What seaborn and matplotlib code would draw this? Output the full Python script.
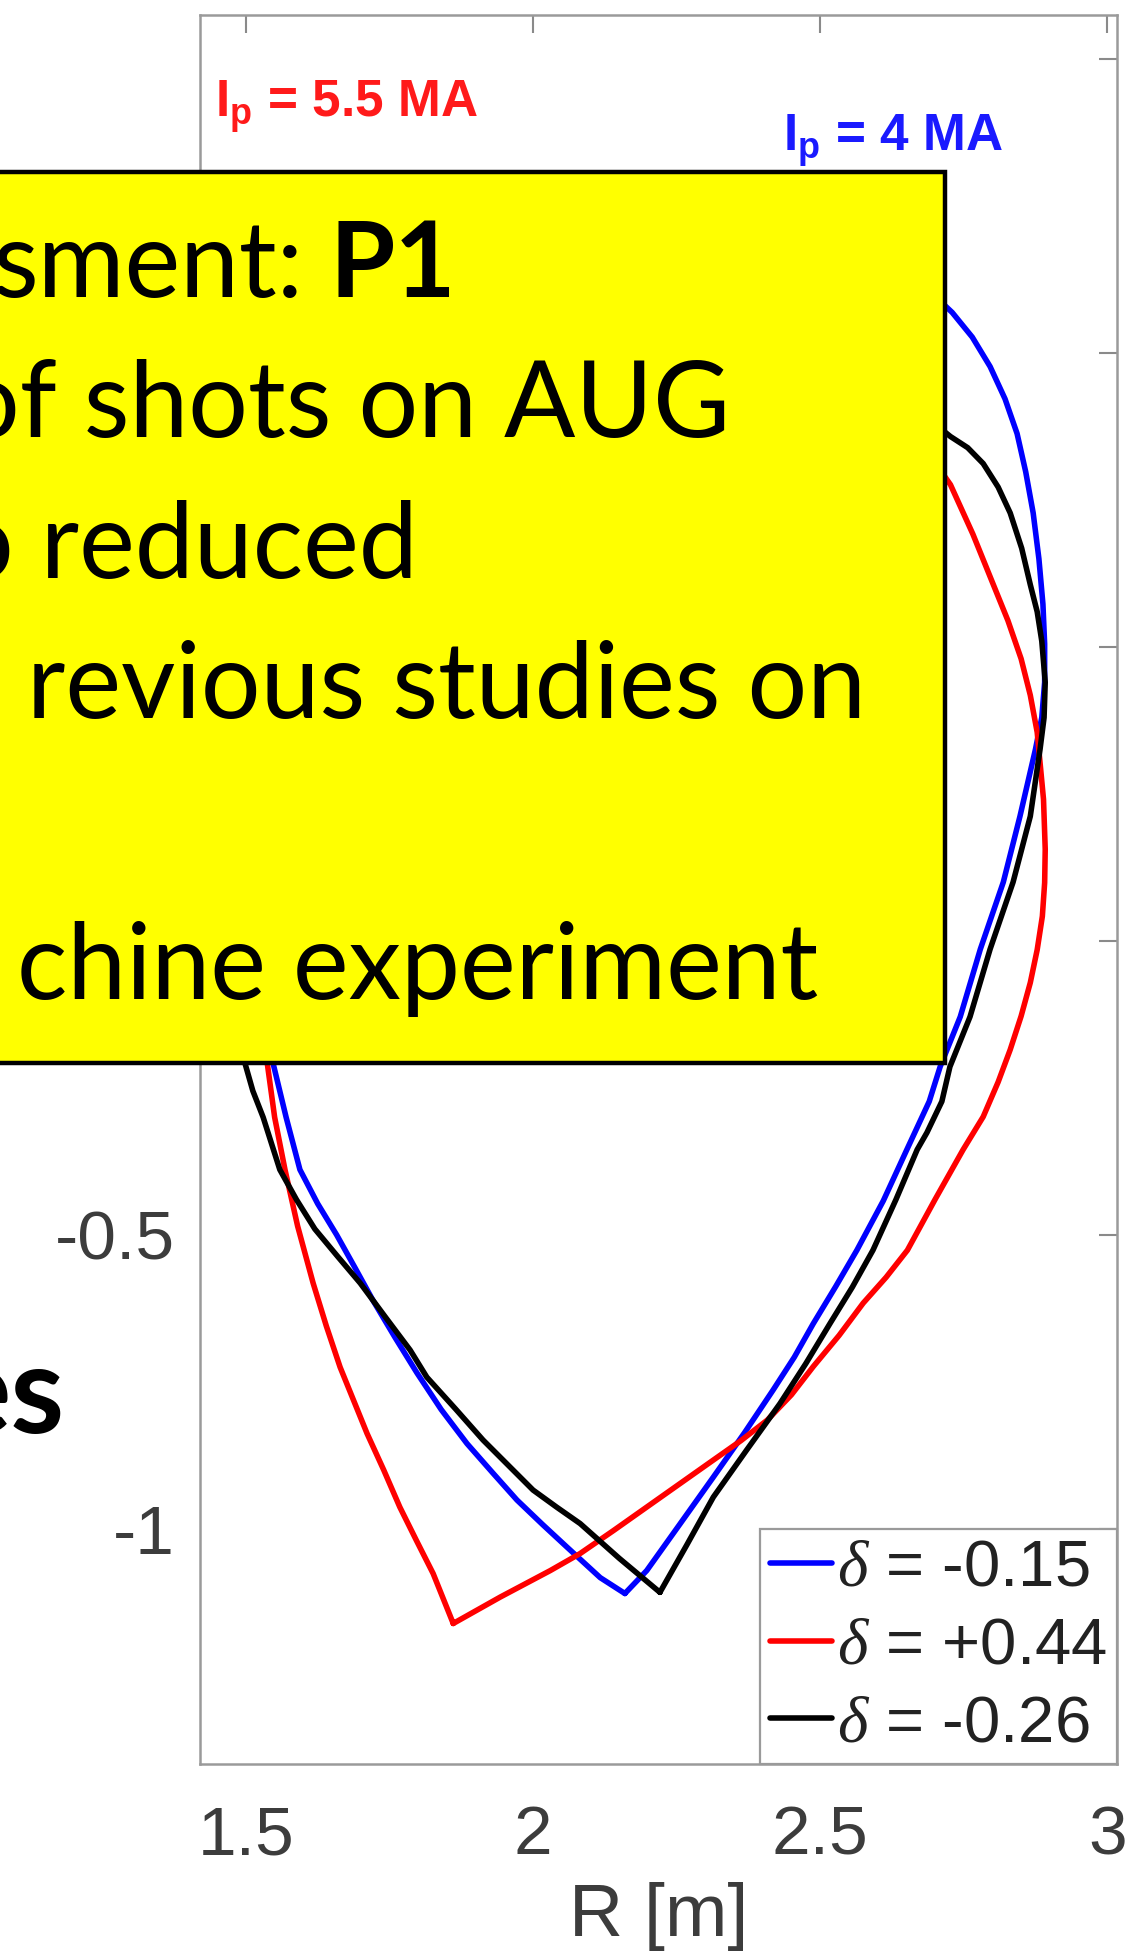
import numpy as np
import pandas as pd
import matplotlib
matplotlib.use("Agg")
import matplotlib.pyplot as plt
import seaborn as sns
from matplotlib.patches import Rectangle

# Plasma boundary contours (R, Z in metres), closed through the X-point
blue_R = [2.160, 2.198, 2.255, 2.314, 2.368, 2.418, 2.455, 2.488, 2.527, 2.564, 2.610, 2.651,
          2.690, 2.709, 2.744, 2.779, 2.819, 2.848, 2.875, 2.886, 2.891, 2.891, 2.888, 2.881,
          2.871, 2.858, 2.843, 2.822, 2.796, 2.765, 2.730, 2.68, 2.62, 2.55, 2.48, 2.40,
          2.33, 2.25, 2.18, 2.10, 2.02, 1.94, 1.86, 1.79, 1.72, 1.66, 1.61, 1.57, 1.54,
          1.52, 1.51, 1.512, 1.52, 1.531, 1.547, 1.570, 1.594, 1.625, 1.658, 1.690, 1.721,
          1.760, 1.798, 1.840, 1.885, 1.930, 1.972, 2.017, 2.059, 2.117, 2.160]
blue_Z = [-1.110, -1.071, -0.993, -0.912, -0.837, -0.764, -0.708, -0.651, -0.588, -0.526,
          -0.442, -0.355, -0.273, -0.214, -0.129, -0.014, 0.100, 0.212, 0.326, 0.380,
          0.440, 0.505, 0.573, 0.650, 0.728, 0.798, 0.863, 0.922, 0.977, 1.027, 1.069,
          1.115, 1.16, 1.195, 1.22, 1.235, 1.24, 1.23, 1.21, 1.17, 1.12, 1.055, 0.98, 0.895,
          0.80, 0.695, 0.58, 0.46, 0.34, 0.22, 0.10, 0.0, -0.10, -0.155, -0.207, -0.30,
          -0.389, -0.447, -0.500, -0.556, -0.611, -0.675, -0.735, -0.797, -0.855, -0.905,
          -0.951, -0.993, -1.031, -1.083, -1.110]

red_R = [1.861, 1.943, 2.030, 2.082, 2.140, 2.198, 2.256, 2.314, 2.362, 2.408, 2.450, 2.488,
         2.533, 2.575, 2.615, 2.652, 2.700, 2.749, 2.784, 2.810, 2.831, 2.850, 2.866, 2.878,
         2.887, 2.891, 2.892, 2.889, 2.878, 2.866, 2.850, 2.827, 2.800, 2.766, 2.727, 2.66,
         2.60, 2.53, 2.45, 2.37, 2.28, 2.20, 2.12, 2.05, 1.98, 1.91, 1.84, 1.78, 1.72, 1.67,
         1.62, 1.585, 1.56, 1.542, 1.53, 1.53, 1.537, 1.550, 1.568, 1.590, 1.617, 1.640,
         1.664, 1.711, 1.740, 1.768, 1.797, 1.826, 1.861]
red_Z = [-1.161, -1.116, -1.071, -1.042, -1.003, -0.963, -0.923, -0.883, -0.850, -0.815,
         -0.772, -0.724, -0.671, -0.616, -0.572, -0.526, -0.440, -0.355, -0.299, -0.240,
         -0.185, -0.128, -0.071, -0.015, 0.042, 0.099, 0.156, 0.241, 0.355, 0.418, 0.480,
         0.545, 0.610, 0.692, 0.776, 0.87, 0.95, 1.03, 1.10, 1.165, 1.22, 1.26, 1.28, 1.265,
         1.22, 1.15, 1.06, 0.95, 0.82, 0.69, 0.55, 0.415, 0.28, 0.15, 0.02, -0.12, -0.207,
         -0.30, -0.389, -0.485, -0.582, -0.655, -0.725, -0.838, -0.900, -0.963, -1.020,
         -1.076, -1.161]

black_R = [2.221, 2.268, 2.314, 2.372, 2.430, 2.475, 2.517, 2.556, 2.592, 2.632, 2.669, 2.686,
           2.712, 2.726, 2.761, 2.796, 2.836, 2.866, 2.883, 2.890, 2.892, 2.886, 2.878, 2.866,
           2.851, 2.831, 2.810, 2.784, 2.757, 2.727, 2.68, 2.62, 2.55, 2.48, 2.40, 2.33, 2.25,
           2.17, 2.085, 2.00, 1.91, 1.83, 1.75, 1.67, 1.61, 1.56, 1.525, 1.50, 1.488, 1.485,
           1.489, 1.498, 1.512, 1.530, 1.559, 1.588, 1.620, 1.660, 1.699, 1.743, 1.786,
           1.815, 1.865, 1.913, 1.957, 2.000, 2.041, 2.082, 2.150, 2.221]
black_Z = [-1.108, -1.027, -0.946, -0.866, -0.787, -0.719, -0.651, -0.589, -0.526, -0.440,
           -0.355, -0.326, -0.273, -0.214, -0.129, -0.014, 0.100, 0.212, 0.326, 0.380, 0.440,
           0.510, 0.560, 0.606, 0.668, 0.728, 0.772, 0.812, 0.839, 0.858, 0.895, 0.93, 0.96,
           0.98, 0.99, 0.99, 0.975, 0.95, 0.905, 0.85, 0.78, 0.70, 0.605, 0.50, 0.39, 0.28,
           0.165, 0.05, -0.03, -0.10, -0.16, -0.207, -0.255, -0.30, -0.389, -0.440, -0.490,
           -0.537, -0.582, -0.640, -0.696, -0.742, -0.796, -0.849, -0.892, -0.934, -0.963,
           -0.991, -1.050, -1.108]

shape_labels = [r"$\delta$ = -0.15", r"$\delta$ = +0.44", r"$\delta$ = -0.26"]
shape_colors = ["#0000ff", "#ff0000", "#000000"]

x_ticks = [1.5, 2.0, 2.5, 3.0]
x_ticklabels = ["1.5", "2", "2.5", "3"]
y_ticks = [-1.0, -0.5, 0.0, 0.5, 1.0, 1.5]
y_ticklabels = ["-1", "-0.5", "", "", "", ""]

current_labels = [r"$\mathbf{I_p}$ = 5.5 MA", r"$\mathbf{I_p}$ = 4 MA"]
current_pos = [(1.446, 1.403), (2.436, 1.345)]
current_colors = ["#ff1a1a", "#1a1aff"]

box_lines = ["of shots on AUG", "o reduced", "revious studies on", "chine experiment"]

# ---------------------------------------------------------------- style
sns.set_style("white")
plt.rcParams["font.family"] = ["Liberation Sans", "DejaVu Sans"]
plt.rcParams["mathtext.fontset"] = "custom"
plt.rcParams["mathtext.rm"] = "Liberation Sans"
plt.rcParams["mathtext.it"] = "Liberation Serif:italic"
plt.rcParams["mathtext.bf"] = "Liberation Sans:bold"

W, H = 1129, 1959
fig = plt.figure(figsize=(W / 100, H / 100), dpi=100)
fig.patch.set_facecolor("white")
ax = fig.add_axes([200 / W, 1 - 1764 / H, 917 / W, 1749 / H])

frames = []
for lab, r, z in zip(shape_labels, [blue_R, red_R, black_R], [blue_Z, red_Z, black_Z]):
    frames.append(pd.DataFrame({"R": r, "Z": z, "shape": lab}))
df = pd.concat(frames, ignore_index=True)

sns.lineplot(data=df, x="R", y="Z", hue="shape", hue_order=shape_labels,
             palette=dict(zip(shape_labels, shape_colors)), sort=False,
             estimator=None, linewidth=4.0, ax=ax)
for ln in ax.get_lines():
    ln.set_solid_joinstyle("round")

ax.set_xlim(1.42, 3.017)
ax.set_ylim(-1.40, 1.575)
ax.set_xticks(x_ticks)
ax.set_xticklabels(x_ticklabels)
ax.set_yticks(y_ticks)
ax.set_yticklabels(y_ticklabels)
ax.tick_params(direction="in", length=13, width=1.5, colors="#8a8a8a",
               labelcolor="#3c3c3c", labelsize=50, top=True, right=True)
ax.tick_params(axis="x", pad=29)
ax.tick_params(axis="y", pad=18)
ax.set_xlabel("R [m]", fontsize=54, color="#3c3c3c", labelpad=10)
ax.set_ylabel("")
for sp in ax.spines.values():
    sp.set_color("#9a9a9a")
    sp.set_linewidth(1.8)

for txt, (xr, yz), col in zip(current_labels, current_pos, current_colors):
    ax.text(xr, yz, txt, color=col, fontsize=37, fontweight="bold",
            ha="left", va="baseline")

handles, labels = ax.get_legend_handles_labels()
if ax.get_legend() is not None:
    ax.get_legend().remove()
leg = ax.legend(handles, labels, loc="lower right", borderaxespad=0,
                fontsize=47, handlelength=0.95, handletextpad=0.08,
                borderpad=0.15, labelspacing=0.27, frameon=True,
                fancybox=False, framealpha=1)
leg.get_frame().set_edgecolor("#9a9a9a")
leg.get_frame().set_linewidth(1.6)
for hl in leg.get_lines():
    hl.set_linewidth(4.0)
for t in leg.get_texts():
    t.set_color("#222222")

# ---------------------------------------------------------------- yellow note
box = Rectangle((-0.01, 1 - 1063 / H), 945 / W + 0.01, (1063 - 172) / H,
                transform=fig.transFigure, facecolor="#ffff00",
                edgecolor="black", linewidth=3.2, zorder=5)
fig.add_artist(box)

note_font = dict(family=["Lato", "DejaVu Sans"], fontsize=76, color="black", zorder=6)
baselines = [437, 578, 718, 999]
right_ends = [730, 418, 866, 818]
for txt, b, xr in zip(box_lines, baselines, right_ends):
    fig.text(xr / W, 1 - b / H, txt, ha="right", va="baseline", **note_font)

p1 = fig.text(456 / W, 1 - 297 / H, "P1", ha="right", va="baseline",
              fontweight="bold", **note_font)
fig.canvas.draw()
bb = p1.get_window_extent()
fig.text((bb.x0 - 26) / W, 1 - 297 / H, "sment:", ha="right", va="baseline", **note_font)

fig.text(65 / W, 1 - 1433 / H, "es", ha="right", va="baseline",
         family=["Lato", "DejaVu Sans"], fontweight="bold", fontsize=88, color="black")

fig.savefig("out.png", dpi=100)
